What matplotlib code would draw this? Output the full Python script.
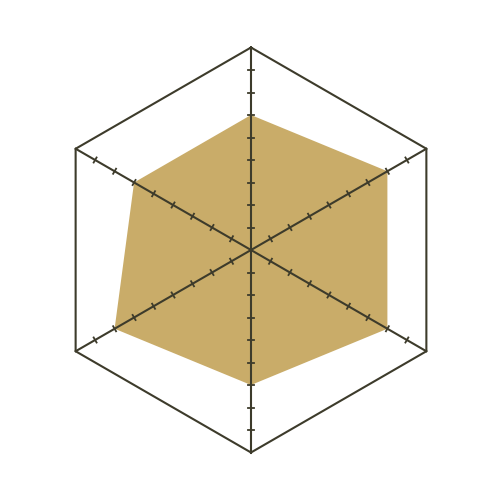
import numpy as np
import matplotlib
matplotlib.use("Agg")
import matplotlib.pyplot as plt

values = [6, 7, 7, 6, 7, 6]  # top, upper-right, lower-right, bottom, lower-left, upper-left
max_value = 9
tick_values = [1, 2, 3, 4, 5, 6, 7, 8]

line_color = "#3d3b2b"
fill_color = "#c9ac69"

n = len(values)
angles = np.deg2rad(90 - np.arange(n) * 360 / n)

fig = plt.figure(figsize=(5, 5), dpi=100)
ax = fig.add_axes([0, 0, 1, 1])
ax.set_axis_off()
scale = 22.5
ax.set_xlim(-251 / scale, 249 / scale)
ax.set_ylim(-250 / scale, 250 / scale)
ax.set_aspect("equal")

v = np.array(values, dtype=float)
xs = v * np.cos(angles)
ys = v * np.sin(angles)
ax.fill(xs, ys, color=fill_color, lw=0, zorder=1)

# outer hexagon
ox = max_value * np.cos(angles)
oy = max_value * np.sin(angles)
ax.plot(np.append(ox, ox[0]), np.append(oy, oy[0]), color=line_color, lw=1.5, zorder=2)

# spokes
for a in angles:
    ax.plot([0, max_value * np.cos(a)], [0, max_value * np.sin(a)], color=line_color, lw=1.5, zorder=2)
    # ticks
    px, py = -np.sin(a), np.cos(a)
    h = 0.13
    for t in tick_values:
        cx, cy = t * np.cos(a), t * np.sin(a)
        ax.plot([cx - h * px, cx + h * px], [cy - h * py, cy + h * py], color=line_color, lw=1.3, zorder=2)

fig.savefig("out.png", dpi=100, facecolor="white")
